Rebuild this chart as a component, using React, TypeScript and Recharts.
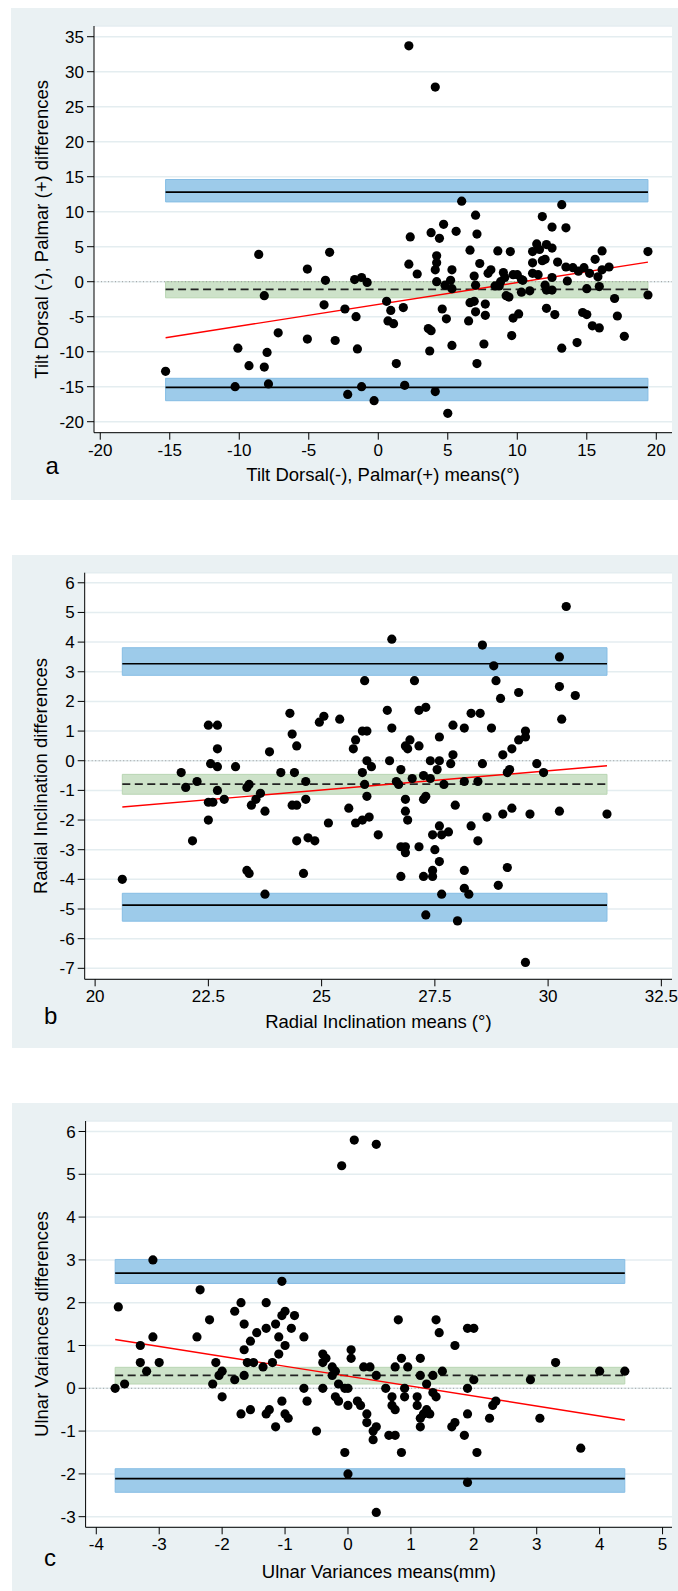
import React from "react";
import { ScatterChart, Scatter, XAxis, YAxis, CartesianGrid, ReferenceArea, ReferenceLine, Label } from "recharts";

type Pt = [number, number];

// ---- panel a: tilt ----
const tiltPoints: Pt[] = [
  [2.2, 33.7], [4.1, 27.8], [6.0, 11.5], [7.0, 9.5], [4.7, 8.2], [3.8, 7.0], [5.6, 7.2], [7.1, 6.8], [2.3, 6.4], [4.4, 6.2],
  [11.8, 9.3], [13.2, 11.0], [12.5, 7.8], [13.5, 7.7], [11.4, 5.4], [12.1, 5.3], [12.5, 4.8],
  [6.6, 4.5], [8.6, 4.4], [9.5, 4.3], [11.6, 4.6], [11.1, 4.3], [16.1, 4.4], [19.4, 4.3],
  [2.2, 2.5], [2.8, 1.1], [4.2, 3.7], [4.2, 2.7], [4.1, 1.7], [5.3, 1.7], [7.3, 2.6], [7.9, 1.2], [8.1, 1.7], [6.9, 0.8],
  [9.0, 1.3], [9.1, 0.6], [9.7, 1.0], [10.0, 1.0], [10.3, 0.3], [11.1, 2.7], [11.8, 3.0], [12.0, 3.2], [12.9, 2.8], [13.5, 2.1],
  [14.0, 2.0], [14.4, 1.5], [14.8, 2.0], [15.2, 1.2], [15.6, 3.2], [15.8, 0.7], [16.1, 1.7], [16.6, 2.1], [11.1, 1.2], [11.5, 1.0],
  [12.5, 0.6], [13.6, 0.1],
  [4.2, 0.0], [4.8, -0.5], [5.2, 0.2], [5.3, -1.0], [7.0, -0.5], [8.4, -0.6], [8.7, -0.6], [8.8, 0.0], [10.4, 0.2], [10.3, -1.5],
  [10.9, -1.3], [12.0, -0.5], [12.1, -1.2], [12.5, -1.2], [15.0, -1.0], [15.9, -0.7], [19.4, -1.9], [17.0, -2.4], [9.2, -2.0], [9.4, -2.2],
  [0.6, -2.8], [1.8, -3.7], [0.9, -4.1], [4.6, -3.9], [4.9, -5.3], [6.6, -3.0], [6.9, -2.8], [7.0, -4.3], [7.7, -4.8], [7.7, -3.2],
  [6.5, -5.6], [9.7, -5.2], [10.1, -4.6], [12.1, -3.8], [12.7, -4.7], [14.7, -4.4], [15.0, -4.7], [15.4, -6.3], [15.9, -6.6], [17.2, -4.9],
  [17.7, -7.8], [0.7, -5.6], [1.1, -6.0], [3.6, -6.7], [3.8, -7.0], [9.6, -7.7], [13.2, -9.5], [14.3, -8.7], [3.7, -9.9], [5.3, -9.1],
  [7.6, -8.9], [1.3, -11.7], [7.1, -11.7], [1.9, -14.8], [4.1, -15.7], [5.0, -18.8],
  [-15.3, -12.8], [-8.6, 3.9], [-3.5, 4.2], [-5.1, 1.8], [-3.8, 0.2], [-1.7, 0.3], [-1.2, 0.6], [-0.8, -0.1], [-8.2, -2.0], [-3.9, -3.3],
  [-2.4, -3.9], [-1.6, -5.0], [-7.2, -7.3], [-5.1, -8.2], [-3.1, -8.4], [-1.5, -9.6], [-10.1, -9.5], [-8.0, -10.1], [-9.3, -12.0], [-8.2, -12.2],
  [-10.3, -15.0], [-7.9, -14.6], [-2.2, -16.1], [-1.2, -15.0], [-0.3, -17.0],
];
const tiltRange = [-15.3, 19.4];
const tiltUpper = [11.4, 12.8, 14.6]; // band low, limit, band high
const tiltMean = [-2.3, -1.1, 0.0];
const tiltLower = [-17.0, -15.1, -13.8];
const tiltTrend = [-8.0, 2.8];
const tiltXTicks = [-20, -15, -10, -5, 0, 5, 10, 15, 20];
const tiltYTicks = [-20, -15, -10, -5, 0, 5, 10, 15, 20, 25, 30, 35];

// ---- panel b: radial inclination ----
const radialPoints: Pt[] = [
  [20.6, -4.0], [21.9, -0.4], [22.0, -0.9], [22.25, -0.7], [22.15, -2.7], [22.5, 1.2], [22.7, 1.2], [22.7, 0.4], [22.55, -0.1], [22.7, -0.2],
  [22.7, -1.0], [22.5, -1.4], [22.6, -1.4], [22.5, -2.0], [22.85, -1.3], [23.1, -0.2], [23.35, -0.9], [23.4, -0.8], [23.45, -1.5], [23.55, -1.3],
  [23.65, -1.1], [23.75, -1.7], [23.35, -3.7], [23.4, -3.8], [23.75, -4.5], [23.85, 0.3], [24.1, -0.4], [24.3, 1.6], [24.35, 0.9], [24.45, 0.5],
  [24.4, -0.4], [24.65, -0.7], [24.65, -1.3], [24.35, -1.5], [24.45, -1.5], [24.45, -2.7], [24.7, -2.6], [24.85, -2.7], [24.6, -3.8], [24.95, 1.3],
  [25.05, 1.5], [25.4, 1.4], [25.15, -2.1], [25.6, -1.6], [25.7, 0.4], [25.75, 0.7], [25.95, 2.7], [25.9, 1.0], [26.0, 1.0], [25.9, -0.4],
  [26.0, 0.0], [26.1, -0.2], [25.95, -0.8], [26.0, -1.2], [25.75, -2.1], [25.9, -2.0], [26.05, -1.9], [26.25, -2.5],
  [26.55, 4.1], [27.05, 2.7], [26.45, 1.7], [26.55, 1.1], [27.15, 1.7], [27.3, 1.8], [26.5, 0.0], [26.75, -0.3], [26.95, 0.7], [26.9, 0.4],
  [26.85, 0.5], [27.15, 0.5], [27.6, 0.8], [27.4, 0.0], [27.6, 0.0], [27.55, -0.3], [27.85, -0.1], [27.9, 0.2], [27.25, -0.5], [27.4, -0.6],
  [27.0, -0.6], [26.65, -0.7], [26.7, -0.8], [27.7, -0.8], [26.85, -1.3], [27.25, -1.3], [27.3, -1.2], [26.85, -1.7], [26.9, -2.0], [27.95, -1.5],
  [27.9, 1.2], [28.15, 1.1], [28.3, 1.6], [28.5, 1.6], [28.75, 1.1], [28.15, -0.7], [28.45, -0.7], [28.55, -0.1], [28.55, 3.9], [28.8, 3.2],
  [28.85, 2.7], [28.95, 2.1], [29.35, 2.3], [29.0, 0.2], [29.2, 0.4], [29.35, 0.7], [29.5, 1.0], [29.5, 0.8], [29.1, -0.4], [29.15, -0.3],
  [29.75, -0.1], [29.9, -0.4], [30.25, 3.5], [30.4, 5.2], [30.25, 2.5], [30.6, 2.2], [30.3, 1.4], [29.0, -1.8], [29.2, -1.6], [29.6, -1.8],
  [30.25, -1.7], [31.3, -1.8], [28.65, -1.9], [28.3, -2.2], [28.45, -2.7], [27.6, -2.2], [27.45, -2.5], [27.65, -2.5], [27.8, -2.4], [26.75, -2.9],
  [26.85, -2.9], [26.85, -3.1], [27.15, -2.9], [27.5, -3.0], [27.6, -3.4], [27.45, -3.7], [27.45, -3.9], [27.25, -3.9], [26.75, -3.9], [27.65, -4.5],
  [28.15, -3.7], [28.15, -4.3], [28.25, -4.5], [29.1, -3.6], [28.9, -4.2], [27.3, -5.2], [28.0, -5.4], [29.5, -6.8],
];
const radialRange = [20.6, 31.3];
const radialUpper = [2.88, 3.27, 3.81];
const radialMean = [-1.13, -0.79, -0.46];
const radialLower = [-5.41, -4.87, -4.47];
const radialTrend = [-1.56, -0.17];
const radialXTicks = [20, 22.5, 25, 27.5, 30, 32.5];
const radialYTicks = [-7, -6, -5, -4, -3, -2, -1, 0, 1, 2, 3, 4, 5, 6];

// ---- panel c: ulnar variance ----
const ulnarPoints: Pt[] = [
  [-0.1, 5.2], [0.1, 5.8], [0.45, 5.7],
  [-3.7, 0.0], [-3.55, 0.1], [-3.65, 1.9], [-3.1, 3.0], [-3.3, 1.0], [-3.3, 0.6], [-3.2, 0.4], [-3.1, 1.2], [-3.0, 0.6], [-2.35, 2.3],
  [-2.4, 1.2], [-2.2, 1.6], [-2.1, 0.6], [-2.15, 0.1], [-2.05, 0.3], [-2.0, 0.4], [-2.0, -0.2], [-1.8, 1.8], [-1.7, 2.0], [-1.8, 0.2],
  [-1.65, 1.5], [-1.65, 0.9], [-1.65, 0.3], [-1.7, -0.6], [-1.6, 0.6], [-1.55, 1.1], [-1.55, -0.5], [-1.5, 0.6], [-1.45, 1.3], [-1.3, 2.0],
  [-1.3, 1.4], [-1.35, 0.5], [-1.3, -0.6], [-1.25, -0.5], [-1.15, -0.9], [-1.2, 0.6], [-1.15, 1.5], [-1.1, 1.2], [-1.1, 0.8], [-1.05, 2.5],
  [-1.05, 1.7], [-1.0, 1.8], [-1.0, 1.0], [-1.05, -0.3], [-1.0, -0.6], [-0.95, -0.7], [-0.85, 1.7], [-0.9, 1.4], [-0.7, 1.2], [-0.7, 0.0],
  [-0.65, -0.3], [-0.5, -1.0], [-0.4, 0.8], [-0.35, 0.7], [-0.4, 0.6], [-0.4, 0.0], [-0.25, 0.5], [-0.2, 0.4], [-0.25, 0.3], [-0.15, 0.1],
  [-0.2, -0.2], [-0.15, -0.3], [-0.05, 0.0], [0.0, 0.0], [0.0, -0.4], [-0.05, -1.5], [0.0, -2.0], [0.05, 0.9], [0.05, 0.7], [0.15, -0.3],
  [0.2, -0.4], [0.25, 0.5], [0.35, 0.5], [0.45, 0.3], [0.3, -0.6], [0.3, -0.8], [0.4, -1.0], [0.45, -0.9], [0.4, -1.2], [0.45, -2.9],
  [0.8, 1.6], [1.4, 1.6], [1.45, 1.3], [1.9, 1.4], [2.0, 1.4], [1.7, 1.0], [0.85, 0.7], [1.15, 0.7], [0.75, 0.5], [0.95, 0.5],
  [1.5, 0.4], [1.15, 0.3], [1.35, 0.3], [1.25, 0.1], [2.0, 0.2], [0.6, 0.0], [0.9, 0.0], [1.9, 0.0], [1.35, -0.1], [0.7, -0.2],
  [0.9, -0.2], [1.1, -0.2], [1.4, -0.2], [0.7, -0.4], [0.75, -0.5], [1.1, -0.4], [1.25, -0.5], [1.3, -0.6], [1.2, -0.6], [1.15, -0.7],
  [1.15, -0.9], [1.9, -0.6], [1.65, -0.9], [1.7, -0.8], [0.65, -1.1], [0.75, -1.1], [1.85, -1.1], [0.85, -1.5], [2.05, -1.5], [1.9, -2.2],
  [2.25, -0.7], [2.3, -0.4], [2.35, -0.3], [2.9, 0.2], [3.05, -0.7], [3.3, 0.6], [3.7, -1.4], [4.0, 0.4], [4.4, 0.4],
];
const ulnarRange = [-3.7, 4.4];
const ulnarUpper = [2.45, 2.69, 3.01];
const ulnarMean = [0.1, 0.3, 0.49];
const ulnarLower = [-2.43, -2.11, -1.88];
const ulnarTrend = [1.14, -0.74];
const ulnarXTicks = [-4, -3, -2, -1, 0, 1, 2, 3, 4, 5];
const ulnarYTicks = [-3, -2, -1, 0, 1, 2, 3, 4, 5, 6];

const FONT = "'Liberation Sans', Arial, Helvetica, sans-serif";
const BG = "#eaf1f3";
const BLUE = "#9dcbea";
const BLUE_EDGE = "#86bde4";
const GREEN = "#cde2c9";
const GREEN_EDGE = "#b9d6b3";

const dot = (props: any) => <circle cx={props.cx} cy={props.cy} r={4.6} fill="#000" />;

interface PanelProps {
  top: number; height: number; bgLeft: number;
  plotTop: number; plotBottom: number; axisX: number;
  xDomain: number[]; yDomain: number[]; xTicks: number[]; yTicks: number[];
  points: Pt[]; range: number[]; upper: number[]; mean: number[]; lower: number[]; trend: number[];
  xTitle: string; yTitle: string; titleX: number; xTitleBase: number;
  letter: string; letterX: number; letterBase: number;
}

function BlandAltman(p: PanelProps) {
  const data = p.points.map(([x, y]) => ({ x, y }));
  const axisH = 60;
  const plotTop = p.plotTop - p.top;
  const plotBottom = p.plotBottom - p.top;
  const bottom = p.height - plotBottom - axisH;
  const boxBottom = plotBottom + axisH;
  const [x0, x1] = p.range;
  const tickStyle = { fill: "#000", fontSize: 17, fontFamily: FONT };
  return (
    <div style={{ position: "absolute", left: 0, top: p.top, width: 678, height: p.height }}>
      <div style={{ position: "absolute", left: p.bgLeft, top: 0, right: 0, bottom: 0, background: BG }} />
      <div style={{ position: "absolute", left: 0, top: 0 }}>
        <ScatterChart width={678} height={p.height} margin={{ top: plotTop, right: 6, bottom, left: 0 }}>
          <CartesianGrid vertical={false} stroke="#e4edf0" strokeWidth={1.5} fill="#fff" fillOpacity={1} />
          <XAxis type="number" dataKey="x" domain={p.xDomain} ticks={p.xTicks} allowDataOverflow
            height={axisH} stroke="#000" tickSize={7} tickMargin={4} tick={tickStyle} interval={0}>
            <Label value={p.xTitle} position="insideBottom" offset={boxBottom - (p.xTitleBase - p.top)}
              style={{ fontSize: 18.5, fontFamily: FONT, fill: "#000" }} />
            <Label value={p.letter} position="insideBottomLeft" offset={0}
              dx={p.letterX - p.axisX} dy={(p.letterBase - p.top) - boxBottom}
              style={{ fontSize: 24, fontFamily: FONT, fill: "#000" }} />
          </XAxis>
          <YAxis type="number" dataKey="y" domain={p.yDomain} ticks={p.yTicks} allowDataOverflow
            width={p.axisX} stroke="#000" tickSize={7} tickMargin={3} tick={tickStyle} interval={0}>
            <Label value={p.yTitle} position="center" angle={-90} dx={p.titleX - p.axisX / 2}
              style={{ fontSize: 18.5, fontFamily: FONT, fill: "#000" }} />
          </YAxis>
          <ReferenceArea x1={x0} x2={x1} y1={p.upper[0]} y2={p.upper[2]} fill={BLUE} fillOpacity={1} stroke={BLUE_EDGE} ifOverflow="visible" />
          <ReferenceArea x1={x0} x2={x1} y1={p.mean[0]} y2={p.mean[2]} fill={GREEN} fillOpacity={1} stroke={GREEN_EDGE} ifOverflow="visible" />
          <ReferenceArea x1={x0} x2={x1} y1={p.lower[0]} y2={p.lower[2]} fill={BLUE} fillOpacity={1} stroke={BLUE_EDGE} ifOverflow="visible" />
          <ReferenceLine y={0} stroke="#9a9a9a" strokeWidth={1} strokeDasharray="1 2.5" />
          <ReferenceLine segment={[{ x: x0, y: p.upper[1] }, { x: x1, y: p.upper[1] }]} stroke="#000" strokeWidth={1.6} />
          <ReferenceLine segment={[{ x: x0, y: p.lower[1] }, { x: x1, y: p.lower[1] }]} stroke="#000" strokeWidth={1.6} />
          <ReferenceLine segment={[{ x: x0, y: p.mean[1] }, { x: x1, y: p.mean[1] }]} stroke="#222" strokeWidth={1.8} strokeDasharray="8 4.5" />
          <ReferenceLine segment={[{ x: x0, y: p.trend[0] }, { x: x1, y: p.trend[1] }]} stroke="#ff0000" strokeWidth={1.4} />
          <Scatter data={data} shape={dot} isAnimationActive={false} />
        </ScatterChart>
      </div>
    </div>
  );
}

export default function App() {
  return (
    <div style={{ position: "absolute", left: 0, top: 0, width: 678, height: 1591, background: "#fff", overflow: "hidden" }}>
      <BlandAltman top={8} height={492} bgLeft={11} plotTop={26} plotBottom={432.7} axisX={94}
        xDomain={[-20.45, 21.13]} yDomain={[-21.57, 36.53]} xTicks={tiltXTicks} yTicks={tiltYTicks}
        points={tiltPoints} range={tiltRange} upper={tiltUpper} mean={tiltMean} lower={tiltLower} trend={tiltTrend}
        xTitle="Tilt Dorsal(-), Palmar(+) means(°)" yTitle="Tilt Dorsal (-), Palmar (+) differences" titleX={41} xTitleBase={481}
        letter="a" letterX={45.5} letterBase={474} />
      <BlandAltman top={555} height={493} bgLeft={12} plotTop={572.7} plotBottom={979.3} axisX={84.7}
        xDomain={[19.77, 32.735]} yDomain={[-7.37, 6.34]} xTicks={radialXTicks} yTicks={radialYTicks}
        points={radialPoints} range={radialRange} upper={radialUpper} mean={radialMean} lower={radialLower} trend={radialTrend}
        xTitle="Radial Inclination means (°)" yTitle="Radial Inclination differences" titleX={40.5} xTitleBase={1028}
        letter="b" letterX={44} letterBase={1024} />
      <BlandAltman top={1103} height={488} bgLeft={12} plotTop={1121} plotBottom={1527.3} axisX={85.6}
        xDomain={[-4.17, 5.15]} yDomain={[-3.248, 6.245]} xTicks={ulnarXTicks} yTicks={ulnarYTicks}
        points={ulnarPoints} range={ulnarRange} upper={ulnarUpper} mean={ulnarMean} lower={ulnarLower} trend={ulnarTrend}
        xTitle="Ulnar Variances means(mm)" yTitle="Ulnar Variances differences" titleX={41.5} xTitleBase={1578}
        letter="c" letterX={44} letterBase={1566} />
    </div>
  );
}
